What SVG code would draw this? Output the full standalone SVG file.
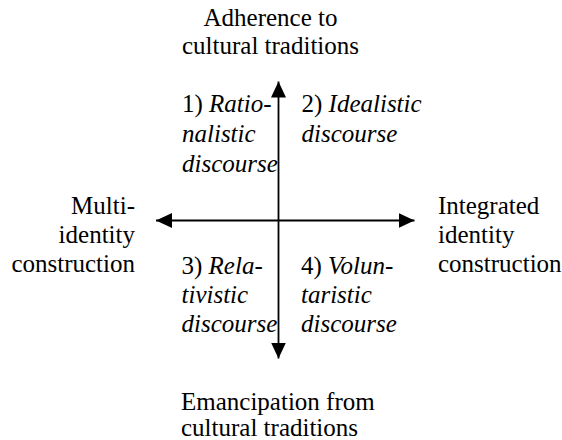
<svg xmlns="http://www.w3.org/2000/svg" width="562" height="440" viewBox="0 0 562 440">
<style>
.t{font-family:'Liberation Serif','Times New Roman',serif;font-size:25px;fill:#000}
.i{font-style:italic}
.ax{stroke:#000;stroke-width:1.8;fill:none}
</style>
<defs>
<marker id="ah" viewBox="0 0 16 16" refX="16" refY="8" markerWidth="16" markerHeight="16" markerUnits="userSpaceOnUse" orient="auto">
<path d="M0,0.5 L16,8 L0,15.5 Z" fill="#000"/>
</marker>
</defs>
<rect width="562" height="440" fill="#fff"/>
<g id="connectors">
<line class="ax" x1="278.5" y1="220.5" x2="278.5" y2="81.5" marker-end="url(#ah)"/>
<line class="ax" x1="278.5" y1="220.5" x2="278.5" y2="358.5" marker-end="url(#ah)"/>
<line class="ax" x1="278.5" y1="220.5" x2="156" y2="220.5" marker-end="url(#ah)"/>
<line class="ax" x1="278.5" y1="220.5" x2="414.5" y2="220.5" marker-end="url(#ah)"/>
</g>
<g class="t">
<g id="top">
<text x="270.5" y="26" text-anchor="middle">Adherence to</text>
<text x="270.5" y="54" text-anchor="middle">cultural traditions</text>
</g>
<g id="bottom">
<text x="181" y="410">Emancipation from</text>
<text x="181" y="436">cultural traditions</text>
</g>
<g id="left">
<text x="135" y="214" text-anchor="end">Multi-</text>
<text x="135" y="243" text-anchor="end">identity</text>
<text x="135" y="272" text-anchor="end">construction</text>
</g>
<g id="right">
<text x="438" y="214">Integrated</text>
<text x="438" y="243">identity</text>
<text x="438" y="272">construction</text>
</g>
<g id="q1">
<text x="182" y="112">1) <tspan class="i">Ratio-</tspan></text>
<text x="182" y="142" class="i">nalistic</text>
<text x="182" y="172" class="i">discourse</text>
</g>
<g id="q2">
<text x="301.5" y="112">2) <tspan class="i">Idealistic</tspan></text>
<text x="301.5" y="142" class="i">discourse</text>
</g>
<g id="q3">
<text x="181.5" y="274">3) <tspan class="i">Rela-</tspan></text>
<text x="181.5" y="303" class="i">tivistic</text>
<text x="181.5" y="332" class="i">discourse</text>
</g>
<g id="q4">
<text x="301" y="274">4) <tspan class="i">Volun-</tspan></text>
<text x="301" y="303" class="i">taristic</text>
<text x="301" y="332" class="i">discourse</text>
</g>
</g>
</svg>
